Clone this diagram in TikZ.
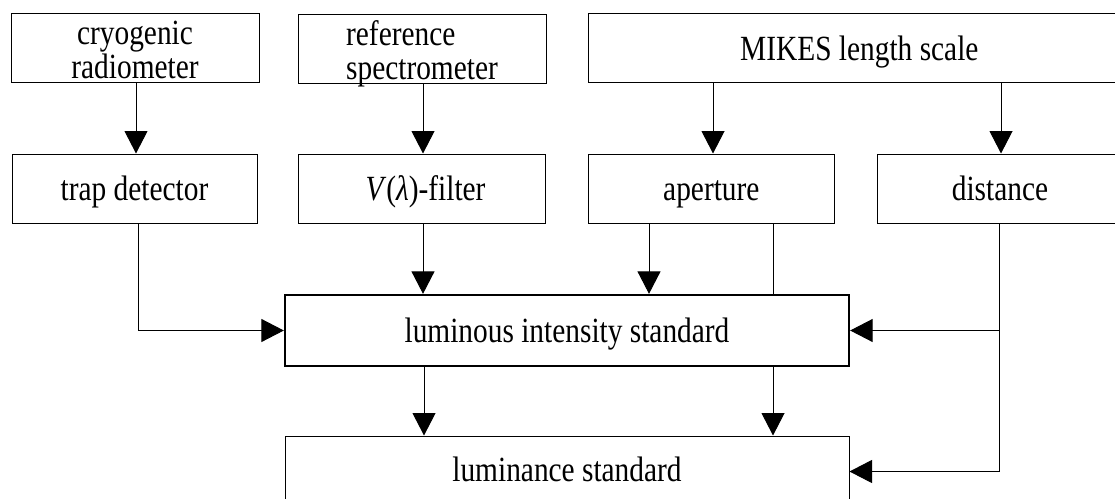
\documentclass[tikz,border=0pt]{standalone}
\usepackage{fontspec}
\setmainfont{Liberation Serif}[FakeStretch=0.83]
\usetikzlibrary{arrows.meta}

\tikzset{
  box/.style={draw=black, line width=1pt, inner sep=0pt, minimum height=69pt,
    font=\fontsize{35.4pt}{34pt}\selectfont, text depth=0pt, text height=23pt},
  twoline/.style={box, align=center, text height=61pt, text depth=0pt},
  mainbox/.style={box, line width=2.3pt, minimum height=71pt, minimum width=564pt, text height=24.4pt},
  link/.style={line width=1pt},
  arr/.style={link, -{Triangle[length=22.5pt, width=23pt]}}
}

\begin{document}
\begin{tikzpicture}[x=1pt, y=-1pt]
\useasboundingbox (0,0) rectangle (1115,498);
\clip (0,0) rectangle (1115,498);

% top row: primary references
\node[twoline, minimum width=248pt] (cryo) at (135,47.5) {cryogenic\\radiometer};
\node[twoline, align=left, minimum width=248pt] (ref) at (422,48.5) {reference\\spectrometer};
\node[box, minimum width=541.3pt, text height=25pt] (mikes) at (859.35,47.5) {MIKES length scale};

% second row: derived quantities
\node[box, minimum width=245pt] (trap) at (134.5,188.5) {trap detector};
\node[box, minimum width=247pt] (vfil) at (421.5,188.5) {\hspace*{8pt}\textit{V}(\textit{λ})-filter};
\node[box, minimum width=245.3pt] (aper) at (711.35,188.5) {aperture};
\node[box, minimum width=246pt] (dist) at (1000,188.5) {distance};

% standards
\node[mainbox] (lis) at (567,330.5) {luminous intensity standard};
\node[box, minimum width=564pt, minimum height=71pt, text height=20.4pt] (lum) at (567,471.5) {luminance standard};

% connection points on the box edges
\coordinate (trapout) at ([xshift=3.5pt]trap.south);
\coordinate (vfilout) at ([xshift=1.5pt]vfil.south);
\coordinate (aperA) at ([xshift=-62.35pt]aper.south);
\coordinate (aperB) at ([xshift=61.65pt]aper.south);
\coordinate (lisA) at ([xshift=-143pt]lis.south);
\coordinate (lisB) at ([xshift=206pt]lis.south);
\coordinate (distout) at ([xshift=-1pt]dist.south);

% connectors
\draw[arr] ([xshift=1pt]cryo.south) -- ([xshift=1pt]cryo.south |- trap.north);
\draw[arr] ([xshift=1pt]ref.south) -- ([xshift=1pt]ref.south |- vfil.north);
\draw[arr] ([xshift=1.65pt]aper.north |- mikes.south) -- ([xshift=1.65pt]aper.north);
\draw[arr] ([xshift=1pt]dist.north |- mikes.south) -- ([xshift=1pt]dist.north);

\draw[arr] (trapout) |- (lis.west);
\draw[arr] (vfilout) -- (vfilout |- lis.north);
\draw[arr] (aperA) -- (aperA |- lis.north);
\draw[link] (aperB) -- (aperB |- lis.north);
\draw[arr] (lisA) -- (lisA |- lum.north);
\draw[arr] (lisB) -- (lisB |- lum.north);

\draw[arr] (distout) |- (lum.east);
\draw[arr] (distout |- lis.east) -- (lis.east);
\end{tikzpicture}
\end{document}
